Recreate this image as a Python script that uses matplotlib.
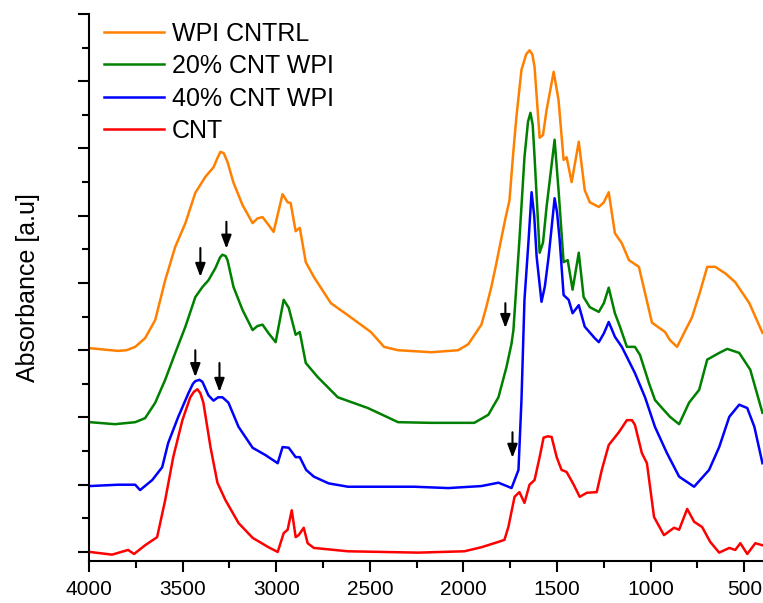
import numpy as np
import matplotlib
matplotlib.use('Agg')
import matplotlib.pyplot as plt
from matplotlib.ticker import MultipleLocator

plt.rcParams['font.family'] = ['Liberation Sans', 'DejaVu Sans']

# FTIR spectra, stacked with offsets (wavenumber in cm-1, absorbance in a.u.)
wpi_wn = [3995, 3845, 3800, 3753, 3700, 3646, 3593, 3539, 3485, 3432, 3378, 3335, 3315, 3298,
          3280, 3260, 3228, 3180, 3126, 3100, 3073, 3040, 3014, 2966, 2939, 2923, 2896, 2874,
          2842, 2799, 2750, 2708, 2617, 2494, 2424, 2349, 2172, 2028, 1974, 1904, 1880, 1851,
          1825, 1797, 1775, 1754, 1735, 1717, 1690, 1665, 1647, 1632, 1620, 1593, 1575, 1556,
          1518, 1492, 1465, 1449, 1422, 1384, 1352, 1325, 1277, 1250, 1224, 1191, 1154, 1116,
          1063, 1030, 993, 923, 897, 859, 821, 779, 736, 698, 655, 600, 548, 473, 403]
wpi_abs = [3.03, 2.99, 3.00, 3.05, 3.18, 3.45, 4.04, 4.54, 4.89, 5.34, 5.58, 5.72, 5.85, 5.95,
           5.93, 5.80, 5.49, 5.16, 4.89, 4.96, 4.98, 4.86, 4.76, 5.32, 5.20, 5.19, 4.77, 4.82,
           4.31, 4.09, 3.88, 3.70, 3.52, 3.27, 3.05, 3.00, 2.97, 3.00, 3.09, 3.38, 3.62, 3.94,
           4.28, 4.67, 4.97, 5.23, 5.90, 6.47, 7.17, 7.40, 7.46, 7.40, 7.21, 6.16, 6.20, 6.57,
           7.14, 6.72, 5.83, 5.87, 5.50, 6.10, 5.38, 5.20, 5.13, 5.20, 5.35, 4.74, 4.59, 4.34,
           4.24, 3.85, 3.41, 3.27, 3.15, 3.05, 3.26, 3.49, 3.87, 4.24, 4.24, 4.14, 4.01, 3.70, 3.26]

cnt20_wn = [3995, 3861, 3753, 3700, 3646, 3593, 3539, 3485, 3432, 3394, 3362, 3325, 3300, 3287,
            3270, 3260, 3228, 3180, 3126, 3100, 3073, 3040, 3003, 2960, 2933, 2896, 2874, 2842,
            2778, 2671, 2510, 2349, 2172, 1942, 1867, 1813, 1770, 1743, 1733, 1701, 1674, 1655,
            1642, 1630, 1620, 1593, 1575, 1556, 1513, 1492, 1465, 1443, 1417, 1384, 1358, 1325,
            1277, 1250, 1224, 1191, 1164, 1127, 1084, 1057, 1009, 977, 939, 897, 848, 795, 741,
            698, 634, 591, 527, 468, 403]
cnt20_abs = [1.93, 1.90, 1.93, 1.99, 2.22, 2.56, 2.96, 3.35, 3.79, 3.94, 4.04, 4.22, 4.38, 4.42,
             4.40, 4.34, 3.94, 3.60, 3.30, 3.36, 3.38, 3.25, 3.12, 3.75, 3.63, 3.23, 3.27, 2.81,
             2.60, 2.30, 2.14, 1.93, 1.92, 1.92, 2.04, 2.30, 2.75, 3.10, 3.30, 4.64, 5.87, 6.40,
             6.53, 6.35, 5.87, 4.45, 4.60, 5.13, 6.13, 5.38, 4.31, 4.34, 3.90, 4.45, 3.79, 3.64,
             3.57, 3.70, 3.93, 3.55, 3.35, 3.05, 3.05, 2.93, 2.51, 2.26, 2.14, 2.01, 1.90, 2.22,
             2.41, 2.86, 2.96, 3.02, 2.96, 2.71, 2.07]

cnt40_wn = [3995, 3845, 3753, 3727, 3662, 3609, 3577, 3523, 3469, 3445, 3432, 3410, 3394, 3362,
            3335, 3310, 3287, 3255, 3201, 3126, 3057, 2992, 2966, 2933, 2896, 2874, 2840, 2799,
            2720, 2617, 2263, 2081, 1904, 1813, 1760, 1743, 1706, 1690, 1674, 1652, 1636, 1622,
            1609, 1583, 1565, 1545, 1513, 1500, 1486, 1465, 1438, 1417, 1384, 1352, 1299, 1277,
            1250, 1224, 1191, 1154, 1084, 1030, 977, 913, 848, 768, 736, 688, 634, 580, 527,
            484, 446, 403]
cnt40_abs = [0.98, 1.00, 1.00, 0.92, 1.07, 1.26, 1.62, 2.01, 2.36, 2.50, 2.54, 2.56, 2.53, 2.33,
             2.25, 2.30, 2.30, 2.22, 1.86, 1.55, 1.44, 1.32, 1.56, 1.55, 1.41, 1.41, 1.22, 1.12,
             1.02, 0.97, 0.97, 0.95, 0.98, 1.03, 0.97, 0.95, 1.22, 2.26, 3.75, 4.64, 5.35, 5.00,
             4.39, 3.72, 3.95, 4.39, 5.26, 5.05, 4.64, 3.82, 3.75, 3.55, 3.67, 3.35, 3.18, 3.12,
             3.25, 3.42, 3.20, 3.05, 2.66, 2.30, 1.86, 1.47, 1.12, 0.97, 1.07, 1.22, 1.56, 2.01,
             2.19, 2.14, 1.86, 1.32]

cnt_wn = [3995, 3877, 3791, 3759, 3700, 3636, 3593, 3550, 3501, 3459, 3440, 3421, 3405, 3389,
          3351, 3314, 3271, 3201, 3126, 3041, 2992, 2960, 2939, 2917, 2896, 2880, 2853, 2832,
          2799, 2617, 2242, 1995, 1904, 1813, 1781, 1760, 1727, 1701, 1674, 1647, 1620, 1593,
          1572, 1550, 1529, 1502, 1476, 1449, 1411, 1379, 1341, 1288, 1261, 1224, 1170, 1127,
          1100, 1084, 1047, 1020, 982, 929, 875, 848, 805, 768, 725, 682, 634, 580, 548, 521,
          484, 441, 403]
cnt_abs = [0.00, -0.04, 0.03, -0.03, 0.10, 0.22, 0.77, 1.41, 1.96, 2.30, 2.38, 2.42, 2.36, 2.22,
           1.56, 1.03, 0.77, 0.43, 0.21, 0.07, 0.00, 0.28, 0.33, 0.62, 0.22, 0.25, 0.36, 0.13,
           0.06, 0.01, -0.01, 0.01, 0.07, 0.15, 0.18, 0.37, 0.82, 0.89, 0.73, 1.00, 1.07, 1.41,
           1.70, 1.72, 1.71, 1.41, 1.22, 1.19, 1.00, 0.82, 0.88, 0.89, 1.22, 1.59, 1.78, 1.96,
           1.96, 1.89, 1.47, 1.32, 0.52, 0.25, 0.36, 0.33, 0.64, 0.45, 0.37, 0.15, -0.01, 0.06,
           0.03, 0.13, -0.03, 0.13, 0.10]

# marker arrows: (wavenumber, tip, tail)
arrow_wn = [3405, 3266, 3432, 3303, 1776, 1738]
arrow_tip = [4.09, 4.51, 2.60, 2.38, 3.33, 1.40]
arrow_tail = [4.52, 4.91, 3.00, 2.81, 3.70, 1.78]

fig = plt.figure(figsize=(7.63, 6.03), dpi=100)
ax = fig.add_axes([0.1166, 0.0697, 0.8834, 0.9071])

ax.plot(wpi_wn, wpi_abs, color='#ff8000', lw=1.8, label='WPI CNTRL')
ax.plot(cnt20_wn, cnt20_abs, color='#008000', lw=1.8, label='20% CNT WPI')
ax.plot(cnt40_wn, cnt40_abs, color='#0000ff', lw=1.8, label='40% CNT WPI')
ax.plot(cnt_wn, cnt_abs, color='#ff0000', lw=1.8, label='CNT')

for w, tip, tail in zip(arrow_wn, arrow_tip, arrow_tail):
    ax.annotate('', xy=(w, tip), xytext=(w, tail),
                arrowprops=dict(arrowstyle='-|>,head_length=0.8,head_width=0.3',
                                color='black', lw=1.5, shrinkA=0, shrinkB=0))

ax.set_xlim(4000, 400)
ax.set_ylim(-0.134, 8.0)
ax.xaxis.set_major_locator(MultipleLocator(500))
ax.xaxis.set_minor_locator(MultipleLocator(250))
ax.yaxis.set_major_locator(MultipleLocator(1))
ax.yaxis.set_minor_locator(MultipleLocator(0.5))
ax.set_yticklabels([])
ax.yaxis.set_ticklabels([], minor=True)

for side in ['top', 'right']:
    ax.spines[side].set_visible(False)
for side in ['left', 'bottom']:
    ax.spines[side].set_linewidth(1.5)
ax.tick_params(which='major', direction='out', length=8, width=1.5, labelsize=15, pad=6)
ax.tick_params(which='minor', direction='out', length=5, width=1.5)

ax.set_ylabel('Absorbance [a.u]', fontsize=18, labelpad=21)

ax.legend(loc='upper left', bbox_to_anchor=(0.022, 0.986), frameon=False, fontsize=18,
          handlelength=2.4, handletextpad=0.32, labelspacing=0.34, borderpad=0,
          borderaxespad=0)

fig.savefig('out.png', dpi=100)
